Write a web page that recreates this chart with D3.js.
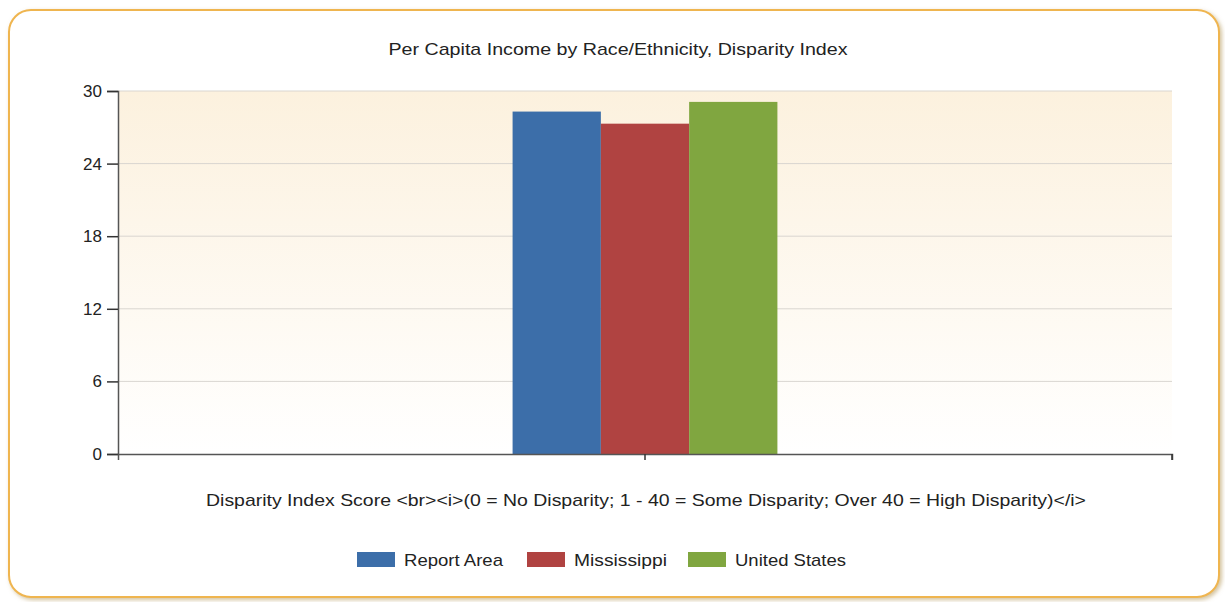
<!DOCTYPE html>
<html>
<head>
<meta charset="utf-8">
<script src="https://cdn.jsdelivr.net/npm/d3@7"></script>
<style>
  body { margin: 0; background: #fff; }
  svg { display: block; font-family: "Liberation Sans", Arial, sans-serif; }
</style>
</head>
<body>
<script>
// data
var categories = ["Disparity Index"];
var seriesNames = ["Report Area", "Mississippi", "United States"];
var seriesValues = [28.3, 27.3, 29.1];
var seriesColors = ["#3c6ea9", "#b04341", "#80a640"];
var yTicks = [0, 6, 12, 18, 24, 30];

var width = 1225, height = 602;
var margin = { top: 91, right: 53, bottom: 148, left: 118 };
var plotW = width - margin.left - margin.right,
    plotH = height - margin.top - margin.bottom;

var svg = d3.select("body").append("svg")
    .attr("width", width)
    .attr("height", height);

var defs = svg.append("defs");
var grad = defs.append("linearGradient")
    .attr("id", "bg")
    .attr("x1", 0).attr("y1", 0).attr("x2", 0).attr("y2", 1);
grad.append("stop").attr("offset", "0%").attr("stop-color", "#fcf1de");
grad.append("stop").attr("offset", "100%").attr("stop-color", "#ffffff");

var shadow = defs.append("filter").attr("id", "shadow")
    .attr("x", "-5%").attr("y", "-5%").attr("width", "110%").attr("height", "110%");
shadow.append("feDropShadow")
    .attr("dx", 2).attr("dy", 2).attr("stdDeviation", 2)
    .attr("flood-color", "#b59a5a").attr("flood-opacity", 0.6);

// outer frame
svg.append("rect")
    .attr("x", 9).attr("y", 10)
    .attr("width", 1210).attr("height", 587)
    .attr("rx", 22).attr("ry", 22)
    .attr("fill", "#fff")
    .attr("stroke", "#efb550")
    .attr("stroke-width", 2)
    .attr("filter", "url(#shadow)");

svg.append("text")
    .attr("x", 618).attr("y", 55)
    .attr("text-anchor", "middle")
    .attr("font-size", 17)
    .attr("textLength", 459)
    .attr("lengthAdjust", "spacingAndGlyphs")
    .attr("fill", "#222")
    .text("Per Capita Income by Race/Ethnicity, Disparity Index");

var g = svg.append("g")
    .attr("transform", "translate(" + margin.left + "," + margin.top + ")");

var x0 = d3.scaleBand()
    .domain(categories)
    .range([0, plotW])
    .paddingInner(0)
    .paddingOuter(1.49);

var x1 = d3.scaleBand()
    .domain(seriesNames)
    .range([0, x0.bandwidth()])
    .padding(0);

var y = d3.scaleLinear()
    .domain([0, 30])
    .range([plotH, 0]);

g.append("rect")
    .attr("width", plotW)
    .attr("height", plotH)
    .attr("fill", "url(#bg)");

// gridlines
g.append("g")
  .selectAll("line")
  .data(yTicks.filter(function(d){ return d > 0; }))
  .enter().append("line")
    .attr("x1", 0).attr("x2", plotW)
    .attr("y1", function(d){ return y(d); })
    .attr("y2", function(d){ return y(d); })
    .attr("stroke", "#d9d6d0")
    .attr("stroke-width", 1);

// bars
var groups = g.selectAll(".cat")
    .data(categories)
  .enter().append("g")
    .attr("class", "cat")
    .attr("transform", function(d){ return "translate(" + x0(d) + ",0)"; });

groups.selectAll("rect")
    .data(seriesNames.map(function(s, i){ return { name: s, value: seriesValues[i], color: seriesColors[i] }; }))
  .enter().append("rect")
    .attr("x", function(d){ return x1(d.name); })
    .attr("y", function(d){ return y(d.value); })
    .attr("width", x1.bandwidth())
    .attr("height", function(d){ return plotH - y(d.value); })
    .attr("fill", function(d){ return d.color; });

// axes
var yAxis = g.append("g")
    .call(d3.axisLeft(y).tickValues(yTicks).tickSize(11).tickPadding(5));
var xAxis = g.append("g")
    .attr("transform", "translate(0," + plotH + ")")
    .call(d3.axisBottom(x0).tickSize(6).tickFormat(""));

[yAxis, xAxis].forEach(function(ax){
  ax.select(".domain").attr("stroke", "#555").attr("stroke-width", 1.5);
  ax.selectAll(".tick line").attr("stroke", "#333").attr("stroke-width", 1.5);
  ax.selectAll("text")
    .attr("font-family", "Liberation Sans, Arial, sans-serif")
    .attr("font-size", 17).attr("fill", "#222");
});
// end tick at right of x axis
xAxis.append("line")
    .attr("x1", plotW).attr("x2", plotW)
    .attr("y1", 0).attr("y2", 6)
    .attr("stroke", "#333").attr("stroke-width", 1.5);

svg.append("text")
    .attr("x", 646).attr("y", 506)
    .attr("text-anchor", "middle")
    .attr("font-size", 17)
    .attr("textLength", 880)
    .attr("lengthAdjust", "spacingAndGlyphs")
    .attr("fill", "#222")
    .text("Disparity Index Score <br><i>(0 = No Disparity; 1 - 40 = Some Disparity; Over 40 = High Disparity)</i>");

// legend
var legendX = [357, 527, 688];
var legendW = [99, 93, 111];
var legend = svg.append("g").attr("transform", "translate(0,552)");
seriesNames.forEach(function(s, i){
  legend.append("rect")
    .attr("x", legendX[i]).attr("y", 0)
    .attr("width", 38).attr("height", 15)
    .attr("fill", seriesColors[i]);
  legend.append("text")
    .attr("x", legendX[i] + 47).attr("y", 14)
    .attr("font-size", 17)
    .attr("textLength", legendW[i])
    .attr("lengthAdjust", "spacingAndGlyphs")
    .attr("fill", "#222")
    .text(s);
});
</script>
</body>
</html>
